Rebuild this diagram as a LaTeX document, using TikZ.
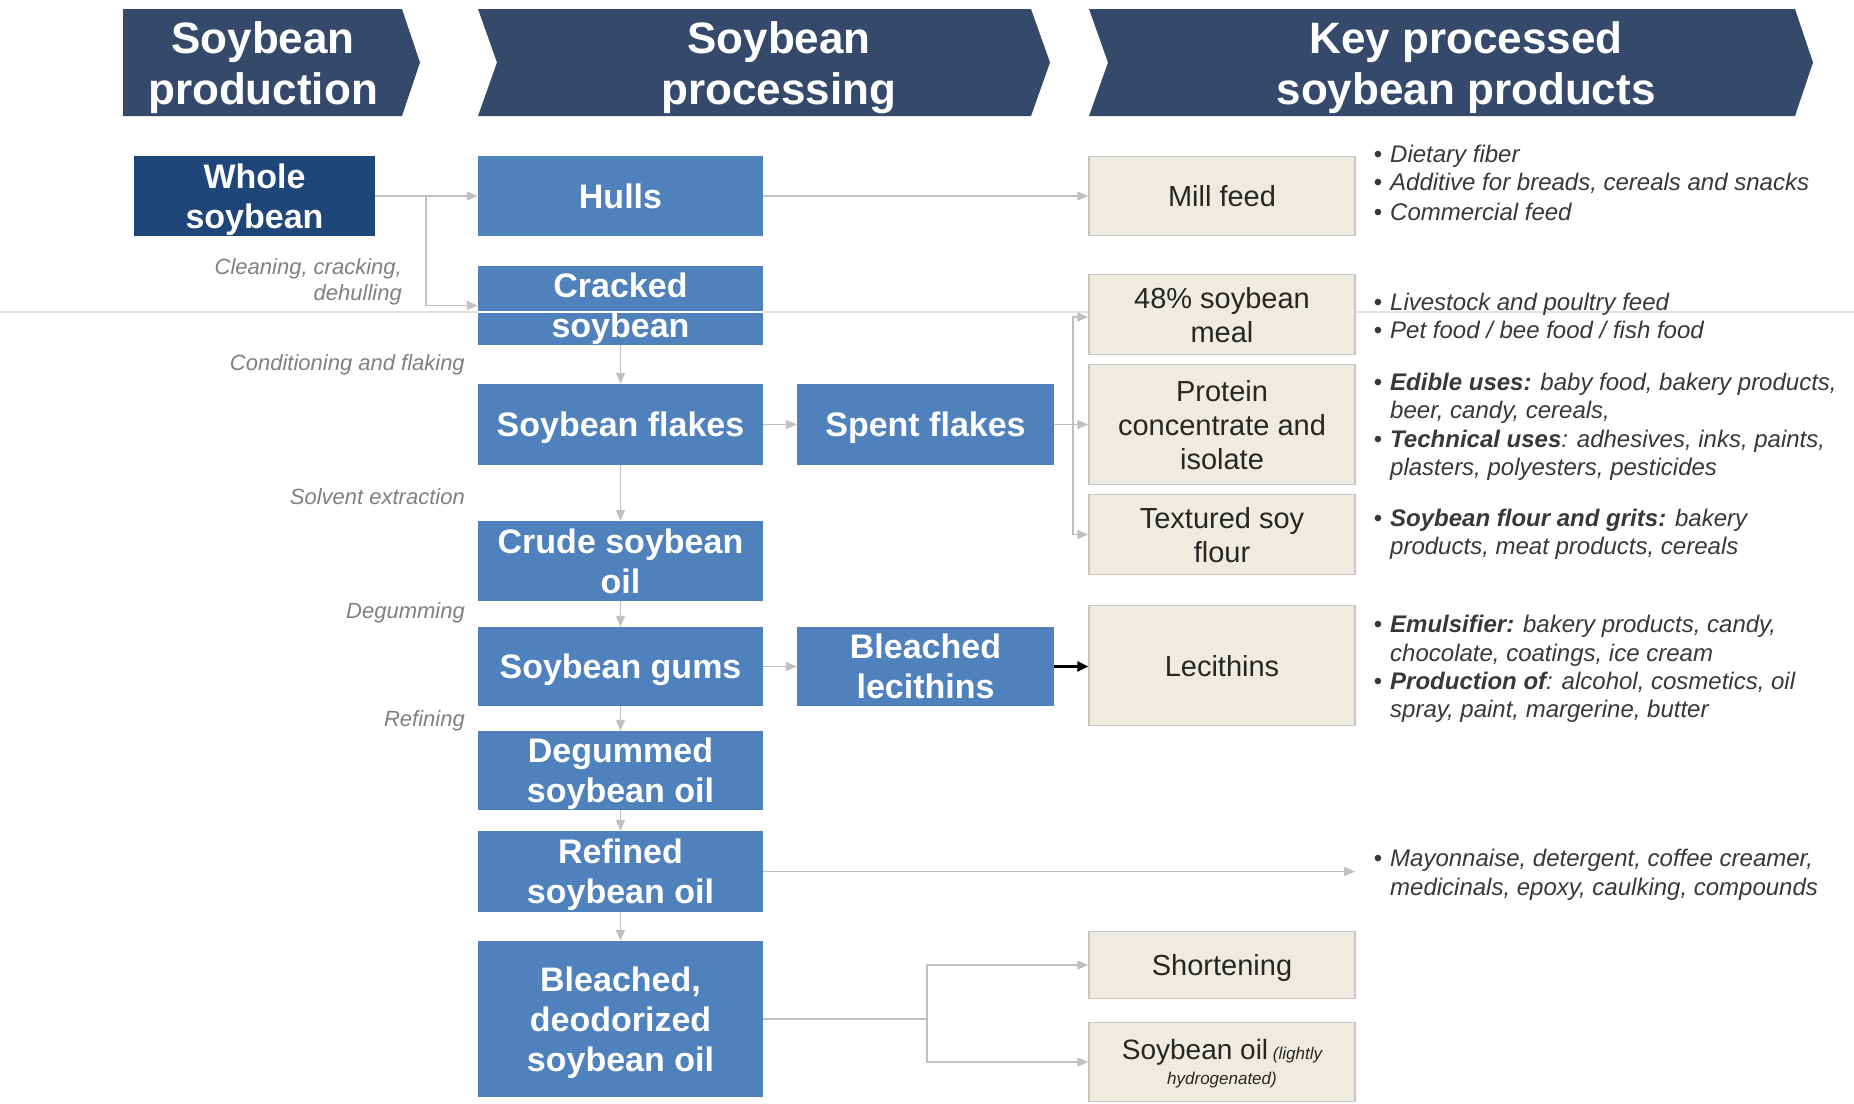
\documentclass[tikz,border=0pt]{standalone}
\usepackage{fontspec}
\setmainfont{Liberation Sans}
\usetikzlibrary{arrows.meta}
\definecolor{navy}{HTML}{35496B}
\definecolor{dblue}{HTML}{1F4678}
\definecolor{mblue}{HTML}{4F81BD}
\definecolor{beige}{HTML}{EEECE1}
\definecolor{beigeb}{HTML}{C8C6BD}
\definecolor{conncol}{HTML}{C0C0C0}
\definecolor{lblcol}{HTML}{808080}
\definecolor{btxt}{HTML}{383838}
\definecolor{straycol}{HTML}{E4E1D6}
\newcommand\bul{\llap{{\upshape\textbullet}\hspace{8pt}}}
\begin{document}
\begin{tikzpicture}[x=1pt,y=-1pt,
 hdr/.style={text=white,font=\fontsize{44}{51}\selectfont\bfseries,align=center,inner sep=0,text depth=0pt},
 bbox/.style={fill=mblue,text=white,font=\fontsize{34}{40}\selectfont\bfseries,align=center,inner sep=0,minimum width=285pt,text depth=0pt},
 pbox/.style={fill=beige,draw=beigeb,line width=1.5pt,text=black!85,font=\fontsize{29}{34}\selectfont,align=center,inner sep=0,minimum width=266pt,text depth=0pt},
 lab/.style={text=lblcol,font=\fontsize{22}{26}\selectfont\itshape,anchor=base east,inner sep=0},
 btext/.style={text=btxt,font=\fontsize{24}{28}\selectfont\itshape,anchor=base west,inner sep=0},
 conn/.style={draw=conncol,line width=1.5pt},
 arr/.style={conn,-{Triangle[length=11pt,width=9pt]}},
]
\useasboundingbox[fill=white] (0,0) rectangle (1854,1103);
% stray horizontal line
\draw[straycol,line width=1.5pt] (0,312) -- (1854,312);
% headers
\fill[navy] (123,9) -- (402,9) -- (420,62.5) -- (402,116) -- (123,116) -- cycle;
\fill[navy] (478,9) -- (1031,9) -- (1050,62.5) -- (1031,116) -- (478,116) -- (497,62.5) -- cycle;
\fill[navy] (1089,9) -- (1795,9) -- (1813,62.5) -- (1795,116) -- (1089,116) -- (1108,62.5) -- cycle;
\node[hdr] (h1) at (263,63) {Soybean\\production};
\node[hdr] (h2) at (779,63) {Soybean\\processing};
\node[hdr] (h3) at (1466,63) {Key processed\\soybean products};
% production
\node[bbox,fill=dblue,minimum width=241pt,minimum height=80pt] (whole) at (254.5,196) {Whole\\soybean};
% processing column
\node[bbox,minimum height=80pt] (hulls) at (620.5,196) {Hulls};
\node[bbox,minimum height=79pt] (cracked) at (620.5,305.5) {Cracked\\soybean};
\node[bbox,minimum height=81pt] (flakes) at (620.5,424.5) {Soybean flakes};
\node[bbox,minimum height=80pt] (crude) at (620.5,561) {Crude soybean\\oil};
\node[bbox,minimum height=79pt] (gums) at (620.5,666.5) {Soybean gums};
\node[bbox,minimum height=79pt] (degum) at (620.5,770.5) {Degummed\\soybean oil};
\node[bbox,minimum height=81pt] (refined) at (620.5,871.5) {Refined\\soybean oil};
\node[bbox,minimum height=156pt] (bdo) at (620.5,1019) {Bleached,\\deodorized\\soybean oil};
\node[bbox,minimum width=257pt,minimum height=81pt] (spent) at (925.5,424.5) {Spent flakes};
\node[bbox,minimum width=257pt,minimum height=79pt] (blech) at (925.5,666.5) {Bleached\\lecithins};
\draw[white,line width=2pt] (478,312) -- (763,312);
% products
\node[pbox,minimum height=79pt] (mill) at (1222,196) {Mill feed};
\node[pbox,minimum height=80pt] (meal) at (1222,314.5) {48\% soybean\\meal};
\node[pbox,minimum height=120pt] (protein) at (1222,424.5) {Protein\\concentrate and\\isolate};
\node[pbox,minimum height=80pt] (textured) at (1222,534.5) {Textured soy\\flour};
\node[pbox,minimum height=120pt] (lecith) at (1222,665.5) {Lecithins};
\node[pbox,minimum height=67pt] (short) at (1222,965) {Shortening};
\node[pbox,minimum height=79pt,font=\fontsize{17}{25}\selectfont\itshape] (soyoil) at (1222,1062) {{\fontsize{28}{25}\selectfont\upshape Soybean oil} (lightly\\hydrogenated)};
% process labels
\node[lab] (l1) at (402,274) {Cleaning, cracking,};
\node[lab] (l1b) at (402,300) {dehulling};
\node[lab] (l2) at (465,370) {Conditioning and flaking};
\node[lab] (l3) at (465,504) {Solvent extraction};
\node[lab] (l4) at (465,618) {Degumming};
\node[lab] (l5) at (465,726) {Refining};
% bullets
\node[btext] (b1) at (1390,162) {\bul Dietary fiber};
\node[btext] (b2) at (1390,190) {\bul Additive for breads, cereals and snacks};
\node[btext] (b3) at (1390,220) {\bul Commercial feed};
\node[btext] (b4) at (1390,310) {\bul Livestock and poultry feed};
\node[btext] (b5) at (1390,338) {\bul Pet food / bee food / fish food};
\node[btext] (b6) at (1390,390) {\bul \textbf{Edible uses:} baby food, bakery products,};
\node[btext] (b7) at (1390,418) {beer, candy, cereals,};
\node[btext] (b8) at (1390,447) {\bul \textbf{Technical uses}: adhesives, inks, paints,};
\node[btext] (b9) at (1390,475) {plasters, polyesters, pesticides};
\node[btext] (b10) at (1390,526) {\bul \textbf{Soybean flour and grits:} bakery};
\node[btext] (b11) at (1390,554) {products, meat products, cereals};
\node[btext] (b12) at (1390,632) {\bul \textbf{Emulsifier:} bakery products, candy,};
\node[btext] (b13) at (1390,661) {chocolate, coatings, ice cream};
\node[btext] (b14) at (1390,689) {\bul \textbf{Production of}: alcohol, cosmetics, oil};
\node[btext] (b15) at (1390,717) {spray, paint, margerine, butter};
\node[btext] (b16) at (1390,866) {\bul Mayonnaise, detergent, coffee creamer,};
\node[btext] (b17) at (1390,895) {medicinals, epoxy, caulking, compounds};
% connectors
\coordinate (j1) at (426,196);
\draw[arr] (whole.east) -- (hulls.west);
\draw[arr] (j1) |- (cracked.west);
\draw[arr] (hulls.east) -- (mill.west);
\draw[arr] (cracked.south) -- (flakes.north);
\draw[arr] (flakes.east) -- (spent.west);
\coordinate (j2) at (1073,424.5);
\draw[conn] (spent.east) -- (j2);
\draw[arr] (j2) -- (protein.west);
\draw[arr] (j2) |- ([yshift=-2.5pt]meal.west);
\draw[arr] (j2) |- (textured.west);
\draw[arr] (flakes.south) -- (crude.north);
\draw[arr] (crude.south) -- (gums.north);
\draw[arr] (gums.east) -- (blech.west);
\draw[black,line width=2.5pt,-{Triangle[length=11pt,width=10pt]}] (blech.east) -- (blech.east -| lecith.west);
\draw[arr] (gums.south) -- (degum.north);
\draw[arr] (degum.south) -- (refined.north);
\coordinate (mend) at (1355,871.5);
\draw[arr] (refined.east) -- (mend);
\draw[arr] (refined.south) -- (bdo.north);
\coordinate (j3) at (927,1019);
\draw[conn] (bdo.east) -- (j3);
\draw[arr] (j3) |- (short.west);
\draw[arr] (j3) |- (soyoil.west);
\end{tikzpicture}
\end{document}
